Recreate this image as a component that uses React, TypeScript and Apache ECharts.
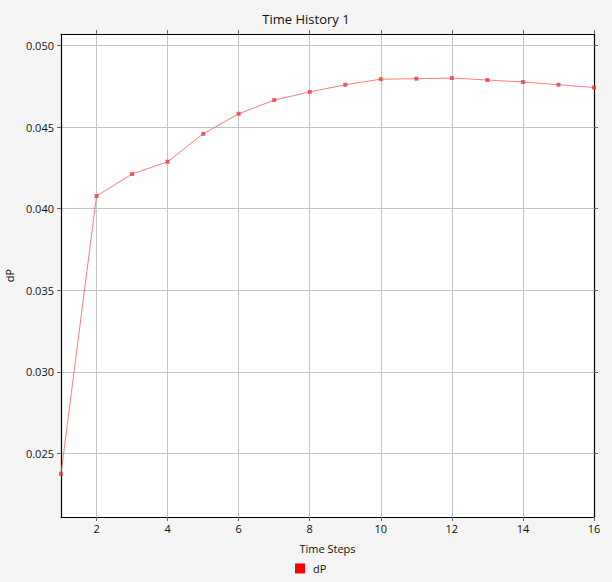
import React, { useEffect, useRef } from "react";
import * as echarts from "echarts";

const steps = [1, 2, 3, 4, 5, 6, 7, 8, 9, 10, 11, 12, 13, 14, 15, 16];
const dP = [0.02375, 0.04077, 0.04212, 0.04287, 0.04458, 0.04581, 0.04665, 0.04715, 0.04759, 0.04793, 0.04796, 0.048, 0.04788, 0.04776, 0.04759, 0.04742];
const xTicks = [2, 4, 6, 8, 10, 12, 14, 16];
const yTicks = [0.025, 0.03, 0.035, 0.04, 0.045, 0.05];

const FONT = "'Open Sans', 'Noto Sans', sans-serif";

export default function App() {
  const ref = useRef<HTMLDivElement>(null);
  useEffect(() => {
    if (!ref.current) return;
    const chart = echarts.init(ref.current, undefined, { renderer: "svg" });
    const xCommon = {
      type: "value" as const,
      min: 1,
      max: 16,
      axisLine: { show: true, onZero: false, lineStyle: { color: "#000", width: 1.2 } },
      axisTick: { show: true, length: 4, inside: false, customValues: xTicks, lineStyle: { color: "#666" } },
    };
    const yCommon = {
      type: "value" as const,
      min: 0.0211,
      max: 0.0507,
      axisLine: { show: true, onZero: false, lineStyle: { color: "#000", width: 1.2 } },
      axisTick: { show: true, length: 4, inside: false, customValues: yTicks, lineStyle: { color: "#666" } },
    };
    chart.setOption({
      animation: false,
      backgroundColor: "#f5f5f5",
      textStyle: { fontFamily: FONT },
      title: {
        text: "Time History 1",
        left: 301,
        top: 7,
        textAlign: "center",
        textStyle: { fontSize: 13, fontWeight: "normal", color: "#111", fontFamily: FONT },
      },
      legend: {
        data: [{ name: "dP", icon: "rect", itemStyle: { color: "#ff0000" } }],
        left: 290,
        top: 558,
        itemWidth: 10,
        itemHeight: 10,
        itemGap: 8,
        textStyle: { fontSize: 11, color: "#111", fontFamily: FONT, padding: [0, 0, 0, 3] },
      },
      grid: {
        left: 61,
        right: 18,
        top: 34,
        bottom: 65,
        show: true,
        backgroundColor: "#fff",
        borderWidth: 0,
        containLabel: false,
        outerBoundsMode: "none",
      },
      xAxis: [
        {
          ...xCommon,
          position: "bottom",
          name: "Time Steps",
          nameLocation: "middle",
          nameGap: 26,
          nameTextStyle: { fontSize: 11, color: "#111", fontFamily: FONT },
          axisLabel: { show: true, customValues: xTicks, fontSize: 11, color: "#111", margin: 6, fontFamily: FONT },
          splitLine: { show: true, lineStyle: { color: "#c4c4c4", width: 1 } },
        },
        {
          ...xCommon,
          position: "top",
          axisLabel: { show: false },
          splitLine: { show: false },
        },
      ],
      yAxis: [
        {
          ...yCommon,
          position: "left",
          name: "dP",
          nameLocation: "middle",
          nameGap: 44,
          nameTextStyle: { fontSize: 11, color: "#111", fontFamily: FONT },
          axisLabel: {
            show: true,
            customValues: yTicks,
            fontSize: 11,
            color: "#111",
            margin: 7,
            fontFamily: FONT,
            formatter: (v: number) => v.toFixed(3),
          },
          splitLine: { show: true, lineStyle: { color: "#c4c4c4", width: 1 } },
        },
        {
          ...yCommon,
          position: "right",
          axisLabel: { show: false },
          splitLine: { show: false },
        },
      ],
      series: [
        {
          name: "dP",
          type: "line",
          data: steps.map((s, i) => [s, dP[i]]),
          symbol: "rect",
          symbolSize: 4,
          showSymbol: true,
          lineStyle: { color: "rgba(255,80,80,0.75)", width: 1 },
          itemStyle: { color: "rgba(235,60,60,0.8)" },
        },
      ],
    });
    return () => chart.dispose();
  }, []);
  return <div ref={ref} style={{ position: "absolute", left: 0, top: 0, width: 612, height: 582 }} />;
}
